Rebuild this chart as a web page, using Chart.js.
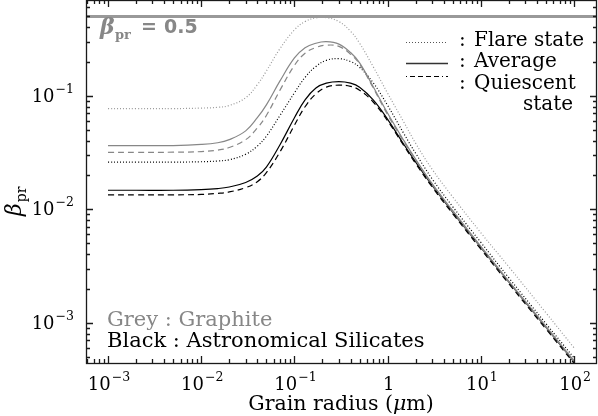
<!DOCTYPE html>
<html lang="en">
<head>
  <meta charset="UTF-8" />
  <title>Radiation pressure beta vs grain radius</title>

  <!-- Chart.js -->
  <script src="https://cdn.jsdelivr.net/npm/chart.js"></script>

  <style>
    * { margin: 0; padding: 0; box-sizing: border-box; }
    body { background: #fff; }
    #wrap { width: 598px; height: 416px; }
  </style>
</head>
<body>
  <div id="wrap">
    <canvas id="betaChart" width="598" height="416"></canvas>
  </div>

  <script>
    // grain radius (micron)
    const radius = [0.001, 0.002, 0.005, 0.01, 0.015, 0.02, 0.03, 0.04, 0.05, 0.07, 0.1, 0.13, 0.17, 0.22, 0.3, 0.4, 0.5, 0.7, 1, 1.5, 2, 3, 5, 10, 20, 50, 100];

    // graphite (grey)
    const graphiteFlare = [0.077, 0.077, 0.077, 0.0778, 0.079, 0.082, 0.096, 0.125, 0.165, 0.26, 0.38, 0.45, 0.485, 0.488, 0.45, 0.37, 0.29, 0.18, 0.105, 0.058, 0.038, 0.0225, 0.0128, 0.0062, 0.0031, 0.00122, 0.0006];
    const graphiteAvg = [0.0363, 0.0363, 0.0364, 0.0372, 0.0385, 0.041, 0.049, 0.064, 0.083, 0.135, 0.215, 0.265, 0.29, 0.299, 0.285, 0.24, 0.195, 0.12, 0.07, 0.04, 0.0275, 0.0168, 0.0097, 0.0047, 0.00232, 0.00093, 0.000462];
    const graphiteQuiet = [0.0317, 0.0317, 0.0318, 0.0322, 0.0332, 0.035, 0.041, 0.052, 0.067, 0.112, 0.185, 0.237, 0.266, 0.279, 0.272, 0.232, 0.19, 0.117, 0.068, 0.039, 0.027, 0.0165, 0.0095, 0.0046, 0.00228, 0.00091, 0.000455];

    // astronomical silicates (black)
    const silicateFlare = [0.026, 0.026, 0.026, 0.0262, 0.0266, 0.0273, 0.0305, 0.036, 0.044, 0.067, 0.106, 0.145, 0.181, 0.205, 0.212, 0.2, 0.178, 0.13, 0.082, 0.046, 0.031, 0.0185, 0.0105, 0.0051, 0.00248, 0.00098, 0.00049];
    const silicateAvg = [0.0147, 0.0147, 0.0147, 0.0149, 0.0152, 0.0157, 0.0172, 0.0196, 0.0235, 0.037, 0.064, 0.092, 0.117, 0.129, 0.133, 0.129, 0.119, 0.092, 0.062, 0.037, 0.026, 0.0162, 0.0094, 0.0046, 0.00228, 0.00091, 0.000452];
    const silicateQuiet = [0.0134, 0.0134, 0.0134, 0.0135, 0.0138, 0.0142, 0.0155, 0.0175, 0.021, 0.032, 0.055, 0.08, 0.104, 0.119, 0.124, 0.121, 0.112, 0.088, 0.06, 0.036, 0.0252, 0.0157, 0.0091, 0.00445, 0.0022, 0.00088, 0.000438];

    const betaLimit = 0.5;

    // axis ranges and tick labels
    const xMin = 5.81e-4, xMax = 176;
    const yMin = 4.42e-4, yMax = 0.697;
    const xTicks = [1e-3, 1e-2, 1e-1, 1, 10, 100];
    const xTickLabels = [['10', '−3'], ['10', '−2'], ['10', '−1'], ['1', ''], ['10', '1'], ['10', '2']];
    const yTicks = [1e-3, 1e-2, 1e-1];
    const yTickLabels = [['10', '−3'], ['10', '−2'], ['10', '−1']];

    const GREY = '#878787';
    const SERIF = '"DejaVu Serif", serif';

    const pts = vals => radius.map((r, i) => ({ x: r, y: vals[i] }));

    function curve(vals, color, dash) {
      return {
        data: pts(vals),
        borderColor: color,
        borderWidth: 1.2,
        borderDash: dash,
        pointRadius: 0,
        fill: false,
        tension: 0.4
      };
    }

    // 10 with exponent, drawn by hand
    function powLabel(ctx, base, exp, x, y, align) {
      ctx.font = '18px ' + SERIF;
      const wb = ctx.measureText(base).width;
      ctx.font = '12.5px ' + SERIF;
      const we = exp ? ctx.measureText(exp).width + 1 : 0;
      const total = wb + we;
      let start = x;
      if (align === 'center') start = x - total / 2;
      if (align === 'right') start = x - total;
      ctx.textAlign = 'left';
      ctx.font = '18px ' + SERIF;
      ctx.fillText(base, start, y);
      if (exp) {
        ctx.font = '12.5px ' + SERIF;
        ctx.fillText(exp, start + wb + 1, y - 9);
      }
    }

    const framePlugin = {
      id: 'frame',
      afterDraw(chart) {
        const { ctx, chartArea: a, scales: { x, y } } = chart;
        ctx.save();
        ctx.strokeStyle = '#1a1a1a';
        ctx.lineWidth = 1.3;

        // minor + major ticks, pointing inward on all four sides
        ctx.beginPath();
        for (let d = -4; d <= 2; d++) {
          for (let m = 1; m <= 9; m++) {
            const v = m * Math.pow(10, d);
            const len = m === 1 ? 7 : 4;
            if (v > xMin && v < xMax) {
              const px = Math.round(x.getPixelForValue(v)) + 0.5;
              ctx.moveTo(px, a.bottom); ctx.lineTo(px, a.bottom - len);
              ctx.moveTo(px, a.top); ctx.lineTo(px, a.top + len);
            }
            if (v > yMin && v < yMax) {
              const py = Math.round(y.getPixelForValue(v)) + 0.5;
              ctx.moveTo(a.left, py); ctx.lineTo(a.left + len, py);
              ctx.moveTo(a.right, py); ctx.lineTo(a.right - len, py);
            }
          }
        }
        ctx.stroke();
        ctx.strokeRect(a.left + 0.5, a.top + 0.5, a.right - a.left - 1, a.bottom - a.top);

        // tick labels
        ctx.fillStyle = '#000';
        ctx.textBaseline = 'alphabetic';
        xTicks.forEach((v, i) => {
          const [b, e] = xTickLabels[i];
          powLabel(ctx, b, e, x.getPixelForValue(v) + 1, 390, 'center');
        });
        yTicks.forEach((v, i) => {
          const [b, e] = yTickLabels[i];
          powLabel(ctx, b, e, 74, y.getPixelForValue(v) + 6, 'right');
        });

        // x axis title
        const t1 = 'Grain radius (', t3 = 'm)';
        ctx.font = 'italic 20.5px ' + SERIF;
        const wMu = ctx.measureText('μ').width;
        ctx.font = '20.5px ' + SERIF;
        const w1 = ctx.measureText(t1).width, w3 = ctx.measureText(t3).width;
        const sx = 341 - (w1 + wMu + w3) / 2;
        ctx.fillText(t1, sx, 410);
        ctx.font = 'italic 20.5px ' + SERIF;
        ctx.fillText('μ', sx + w1, 410);
        ctx.font = '20.5px ' + SERIF;
        ctx.fillText(t3, sx + w1 + wMu, 410);

        // y axis title (rotated)
        ctx.save();
        ctx.translate(21, 216);
        ctx.rotate(-Math.PI / 2);
        ctx.font = 'italic 22px ' + SERIF;
        ctx.fillText('β', 0, 0);
        const wb = ctx.measureText('β').width;
        ctx.font = '14px ' + SERIF;
        ctx.fillText('pr', wb + 1, 5);
        ctx.restore();

        // beta = 0.5 label
        ctx.fillStyle = GREY;
        ctx.font = 'bold italic 22px ' + SERIF;
        ctx.fillText('β', 100, 34);
        ctx.font = 'bold 13px ' + SERIF;
        ctx.fillText('pr', 115, 39);
        ctx.font = 'bold 19px "DejaVu Sans", sans-serif';
        ctx.fillText('=', 141, 33);
        ctx.fillText('0.5', 164, 33);

        // legend
        ctx.lineWidth = 1.2;
        const lx0 = 406, lx1 = 448;
        ctx.strokeStyle = '#555';
        ctx.setLineDash([1, 2]);
        ctx.beginPath(); ctx.moveTo(lx0, 42.5); ctx.lineTo(lx1, 42.5); ctx.stroke();
        ctx.strokeStyle = '#333';
        ctx.lineWidth = 1.6;
        ctx.setLineDash([]);
        ctx.beginPath(); ctx.moveTo(lx0, 63.5); ctx.lineTo(lx1, 63.5); ctx.stroke();
        ctx.strokeStyle = '#000';
        ctx.lineWidth = 1.2;
        ctx.setLineDash([1, 3, 5, 3, 5, 3, 5, 3, 5, 3]);
        ctx.beginPath(); ctx.moveTo(lx0, 76.5); ctx.lineTo(lx1, 76.5); ctx.stroke();
        ctx.setLineDash([]);

        ctx.fillStyle = '#000';
        ctx.font = '20px ' + SERIF;
        ctx.fillText(':', 459, 46);
        ctx.fillText('Flare state', 474, 46);
        ctx.fillText(':', 459, 67);
        ctx.fillText('Average', 474, 67);
        ctx.fillText(':', 459, 89);
        ctx.fillText('Quiescent', 474, 89);
        ctx.fillText('state', 523, 110);

        // material key
        ctx.font = '21px ' + SERIF;
        ctx.fillStyle = GREY;
        ctx.fillText('Grey : Graphite', 107, 326);
        ctx.fillStyle = '#000';
        ctx.fillText('Black : Astronomical Silicates', 107, 347);

        ctx.restore();
      }
    };

    const ctx = document.getElementById('betaChart').getContext('2d');

    new Chart(ctx, {
      type: 'line',
      data: {
        datasets: [
          {
            data: [{ x: xMin, y: betaLimit }, { x: xMax, y: betaLimit }],
            borderColor: '#999',
            borderWidth: 3,
            pointRadius: 0
          },
          curve(graphiteFlare, '#9a9a9a', [1, 2]),
          curve(graphiteAvg, GREY, []),
          curve(graphiteQuiet, GREY, [6, 4]),
          curve(silicateFlare, '#000', [1, 2]),
          curve(silicateAvg, '#000', []),
          curve(silicateQuiet, '#000', [6, 4])
        ]
      },
      options: {
        responsive: false,
        animation: false,
        layout: { padding: { left: 86, right: 1, top: 0, bottom: 53 } },
        plugins: {
          legend: { display: false },
          tooltip: { enabled: false }
        },
        scales: {
          x: { type: 'logarithmic', min: xMin, max: xMax, display: false },
          y: { type: 'logarithmic', min: yMin, max: yMax, display: false }
        }
      },
      plugins: [framePlugin]
    });
  </script>
</body>
</html>
